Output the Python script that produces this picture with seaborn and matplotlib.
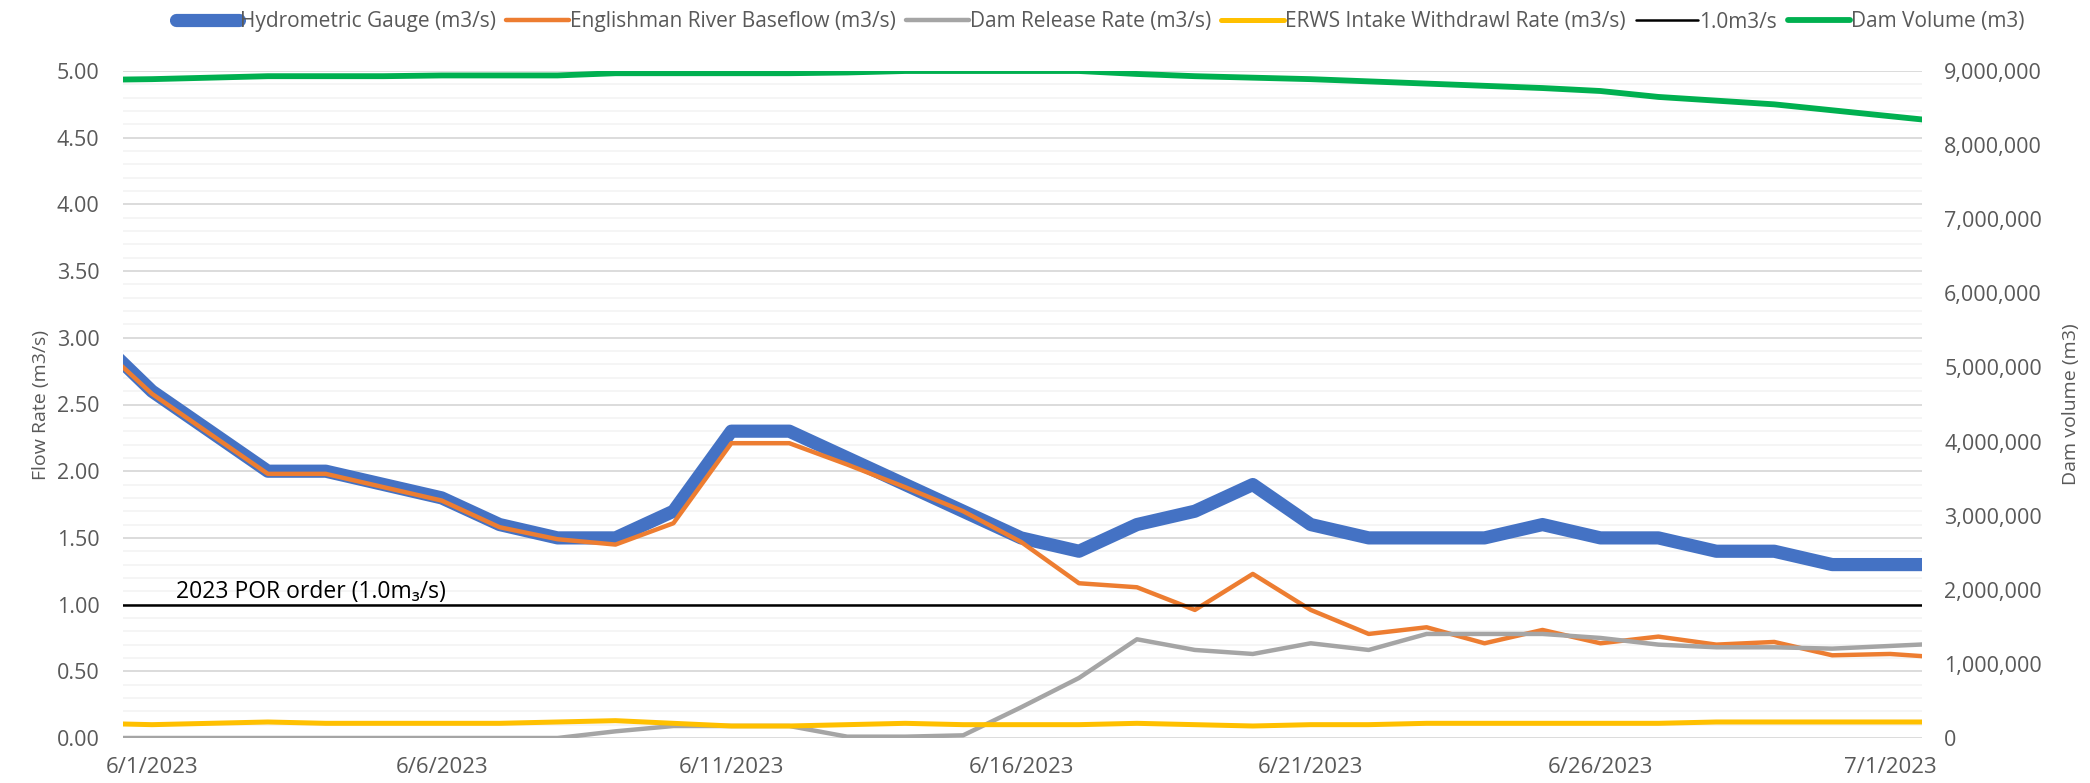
import pandas as pd
import numpy as np
import matplotlib.pyplot as plt
import matplotlib.ticker as mticker
import seaborn as sns

# daily values 5/31/2023 .. 7/2/2023 (first and last day fall just outside the axis)
dates = pd.date_range("2023-05-31", "2023-07-02", freq="D")

gauge = [3.02, 2.60, 2.30, 2.00, 2.00, 1.90, 1.80, 1.60, 1.50, 1.50, 1.70,
         2.30, 2.30, 2.10, 1.90, 1.70, 1.50, 1.40, 1.60, 1.70, 1.90, 1.60,
         1.50, 1.50, 1.50, 1.60, 1.50, 1.50, 1.40, 1.40, 1.30, 1.30, 1.30]
baseflow = [2.98, 2.58, 2.28, 1.98, 1.98, 1.88, 1.78, 1.58, 1.49, 1.45, 1.61,
            2.21, 2.21, 2.05, 1.88, 1.70, 1.47, 1.16, 1.13, 0.96, 1.23, 0.96,
            0.78, 0.83, 0.71, 0.81, 0.71, 0.76, 0.70, 0.72, 0.62, 0.63, 0.60]
release = [0.00, 0.00, 0.00, 0.00, 0.00, 0.00, 0.00, 0.00, 0.00, 0.05, 0.09,
           0.09, 0.09, 0.01, 0.01, 0.02, 0.23, 0.45, 0.74, 0.66, 0.63, 0.71,
           0.66, 0.78, 0.78, 0.78, 0.75, 0.70, 0.68, 0.68, 0.67, 0.69, 0.71]
intake = [0.11, 0.10, 0.11, 0.12, 0.11, 0.11, 0.11, 0.11, 0.12, 0.13, 0.11,
          0.09, 0.09, 0.10, 0.11, 0.10, 0.10, 0.10, 0.11, 0.10, 0.09, 0.10,
          0.10, 0.11, 0.11, 0.11, 0.11, 0.11, 0.12, 0.12, 0.12, 0.12, 0.12]
por_order = [1.0] * 33
dam_volume = [8.88e6, 8.89e6, 8.91e6, 8.93e6, 8.93e6, 8.93e6, 8.94e6, 8.94e6,
              8.94e6, 8.97e6, 8.97e6, 8.97e6, 8.97e6, 8.98e6, 9.00e6, 9.00e6,
              9.00e6, 9.00e6, 8.96e6, 8.93e6, 8.91e6, 8.89e6, 8.86e6, 8.83e6,
              8.80e6, 8.77e6, 8.73e6, 8.65e6, 8.60e6, 8.55e6, 8.47e6, 8.39e6,
              8.31e6]

df = pd.DataFrame({"date": dates, "gauge": gauge, "baseflow": baseflow,
                   "release": release, "intake": intake, "por": por_order,
                   "volume": dam_volume})

sns.set_style("white")
plt.rcParams["font.family"] = ["Open Sans", "DejaVu Sans"]
grey_txt = "#595959"

fig, ax = plt.subplots(figsize=(20.9, 7.83), dpi=100)
fig.subplots_adjust(left=123 / 2090, right=1922 / 2090,
                    bottom=1 - 738 / 783, top=1 - 71 / 783)
ax2 = ax.twinx()

kw = dict(legend=False, solid_joinstyle="round", solid_capstyle="butt")
sns.lineplot(data=df, x="date", y="gauge", ax=ax, color="#4472C4", lw=9.5,
             label="Hydrometric Gauge (m3/s)", **kw)
sns.lineplot(data=df, x="date", y="baseflow", ax=ax, color="#ED7D31", lw=3.2,
             label="Englishman River Baseflow (m3/s)", **kw)
sns.lineplot(data=df, x="date", y="release", ax=ax, color="#A5A5A5", lw=3.2,
             label="Dam Release Rate (m3/s)", **kw)
sns.lineplot(data=df, x="date", y="intake", ax=ax, color="#FFC000", lw=3.6,
             label="ERWS Intake Withdrawl Rate (m3/s)", **kw)
sns.lineplot(data=df, x="date", y="por", ax=ax, color="black", lw=1.8,
             label="1.0m3/s", **kw)
sns.lineplot(data=df, x="date", y="volume", ax=ax2, color="#00B050", lw=4.2,
             label="Dam Volume (m3)", **kw)

ax.set_xlim(pd.Timestamp("2023-05-31 12:00"), pd.Timestamp("2023-07-01 13:12"))
ax.set_ylim(0, 5)
ax2.set_ylim(0, 9e6)

ax.set_yticks(np.arange(0, 5.01, 0.5))
ax.set_yticks(np.arange(0, 5.01, 0.1), minor=True)
ax.yaxis.set_major_formatter(mticker.FormatStrFormatter("%.2f"))
ax.grid(which="major", axis="y", color="#d9d9d9", lw=1.3)
ax.grid(which="minor", axis="y", color="#f2f2f2", lw=1.1)
ax.grid(which="major", axis="x", visible=False)
ax.set_axisbelow(True)

ax2.set_yticks(np.arange(0, 9.01e6, 1e6))
ax2.yaxis.set_major_formatter(mticker.FuncFormatter(lambda v, p: f"{v:,.0f}"))
ax2.grid(False)

tick_days = dates[1::5]
ax.set_xticks(tick_days)
ax.set_xticklabels([f"{d.month}/{d.day}/{d.year}" for d in tick_days])

ax.tick_params(axis="x", length=0, pad=14, labelsize=16, labelcolor=grey_txt)
ax.tick_params(axis="y", which="both", length=0, pad=17, labelsize=15.5,
               labelcolor=grey_txt)
ax2.tick_params(axis="y", length=0, pad=16, labelsize=15.5, labelcolor=grey_txt)

ax.set_xlabel("")
ax.set_ylabel("Flow Rate (m3/s)", fontsize=14, color=grey_txt, labelpad=5)
ax2.set_ylabel("Dam volume (m3)", fontsize=14, color=grey_txt, labelpad=14)

for a in (ax, ax2):
    for s in a.spines.values():
        s.set_visible(False)

ax.text(0.0295, 1.05, "2023 POR order (1.0m\u2083/s)", transform=ax.get_yaxis_transform(),
        fontsize=16.5, color="black", va="baseline", ha="left")

h1, l1 = ax.get_legend_handles_labels()
h2, l2 = ax2.get_legend_handles_labels()
leg = fig.legend(h1 + h2, l1 + l2, loc="center", bbox_to_anchor=(0.5265, 1 - 22 / 783),
                 ncol=6, frameon=False, fontsize=15, handlelength=3.0,
                 handletextpad=0.05, columnspacing=0.5, labelcolor=grey_txt)
for line in leg.get_lines():
    line.set_solid_capstyle("round")

fig.savefig("out.png", dpi=100)
